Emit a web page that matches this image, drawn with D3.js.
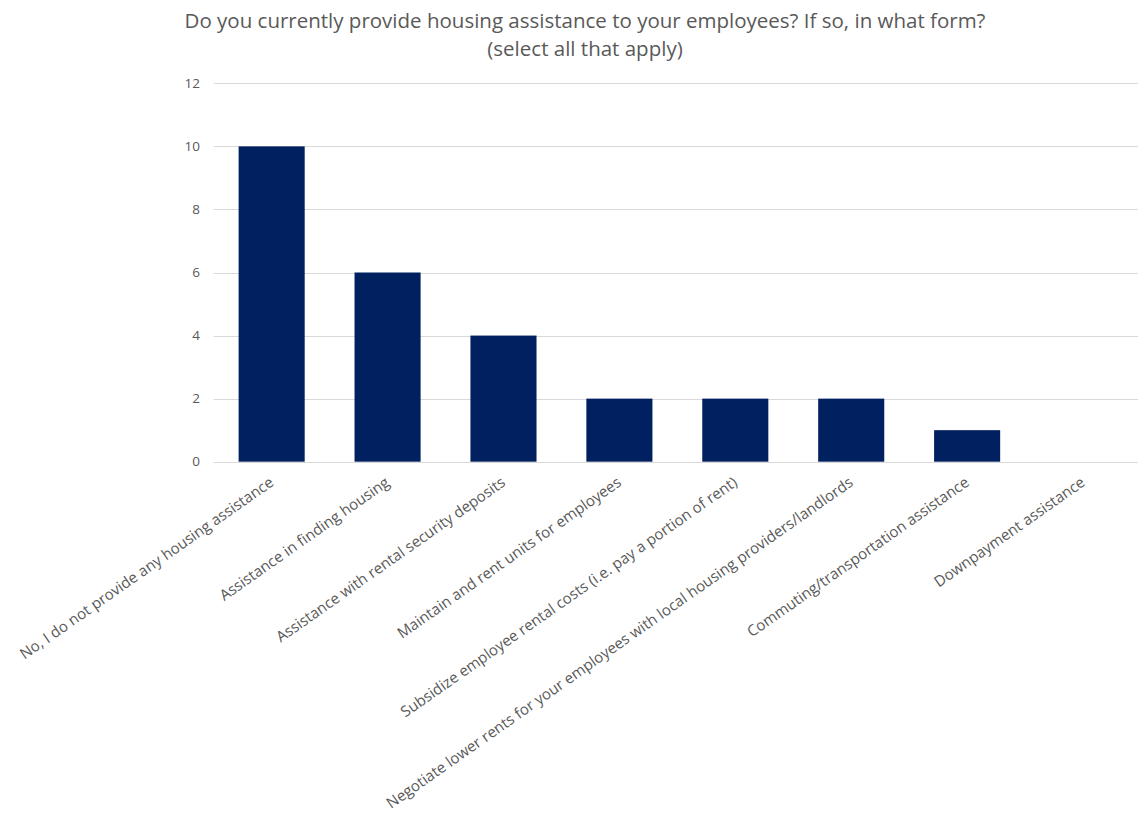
<!DOCTYPE html>
<html>
<head>
<meta charset="utf-8">
<script src="https://cdn.jsdelivr.net/npm/d3@7"></script>
<style>
  body { margin: 0; background: #fff; }
  svg { display: block; }
  text { font-family: "Open Sans", "Segoe UI", sans-serif; fill: #595959; }
</style>
</head>
<body>
<svg id="chart" width="1138" height="817"></svg>
<script>
const categories = [
  "No, I do not provide any housing assistance",
  "Assistance in finding housing",
  "Assistance with rental security deposits",
  "Maintain and rent units for employees",
  "Subsidize employee rental costs (i.e. pay a portion of rent)",
  "Negotiate lower rents for your employees with local housing providers/landlords",
  "Commuting/transportation assistance",
  "Downpayment assistance"
];
const counts = [10, 6, 4, 2, 2, 2, 1, 0];
const yTicks = [0, 2, 4, 6, 8, 10, 12];
const titleLines = [
  "Do you currently provide housing assistance to your employees? If so, in what form?",
  "(select all that apply)"
];

const svg = d3.select("#chart");
const plot = { left: 213.7, right: 1141, top: 83.3, bottom: 461.7 };

const x = d3.scaleBand().domain(categories).range([plot.left, plot.right]).paddingInner(0.43).paddingOuter(0.215);
const y = d3.scaleLinear().domain([0, 12]).range([plot.bottom, plot.top]);

// horizontal gridlines
svg.append("g").selectAll("line").data(yTicks).join("line")
  .attr("x1", plot.left).attr("x2", plot.right)
  .attr("y1", d => Math.round(y(d)) + 0.5).attr("y2", d => Math.round(y(d)) + 0.5)
  .attr("stroke", "#d9d9d9").attr("stroke-width", 1);

// y tick labels
svg.append("g").selectAll("text").data(yTicks).join("text")
  .attr("x", 200).attr("y", d => y(d))
  .attr("dy", "0.35em")
  .attr("text-anchor", "end")
  .attr("font-size", 13.5)
  .text(d => d);

// bars
svg.append("g").selectAll("rect").data(counts).join("rect")
  .attr("x", (d, i) => x(categories[i]))
  .attr("width", x.bandwidth())
  .attr("y", d => y(d))
  .attr("height", d => y(0) - y(d))
  .attr("fill", "#002060");

// category labels, rotated
svg.append("g").selectAll("text").data(categories).join("text")
  .attr("transform", d => `translate(${x(d) + x.bandwidth() / 2 + 3},${plot.bottom + 23}) rotate(-35)`)
  .attr("text-anchor", "end")
  .attr("font-size", 15.1)
  .text(d => d);

// title
svg.append("g").selectAll("text").data(titleLines).join("text")
  .attr("x", 585)
  .attr("y", (d, i) => 28 + i * 28)
  .attr("text-anchor", "middle")
  .attr("font-size", 20.5)
  .text(d => d);
</script>
</body>
</html>
